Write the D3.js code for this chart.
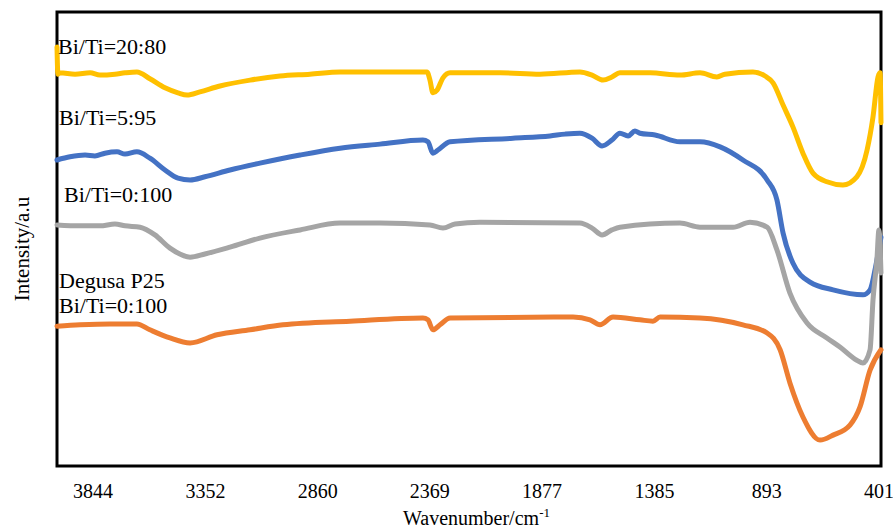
<!DOCTYPE html>
<html>
<head>
<meta charset="utf-8">
<script src="https://cdn.jsdelivr.net/npm/d3@7"></script>
<style>
  body { margin: 0; background: #fff; }
  text { font-family: "Liberation Serif", "Times New Roman", serif; fill: #000; }
</style>
</head>
<body>
<div id="chart"></div>
<script>
// wavenumber (cm-1) and intensity (a.u., 0-100)
const tickValues = [3844, 3352, 2860, 2369, 1877, 1385, 893, 401]

const wnBi20 = [4000, 3996, 3987, 3921, 3855, 3812, 3746, 3702, 3650, 3593, 3527, 3470, 3430, 3374, 3286, 3154, 3023, 2892, 2760, 2585, 2379, 2366, 2353, 2335, 2309, 2278, 2059, 1884, 1709, 1656, 1608, 1569, 1534, 1402, 1271, 1183, 1109, 1074, 951, 898, 863, 819, 776, 732, 688, 627, 557, 496, 451, 425, 403, 394, 390]
const intBi20 = [92.3, 86.3, 86.6, 86.3, 86.6, 86.1, 86.3, 86.6, 86.8, 85.3, 83.3, 82.2, 81.7, 82.4, 83.7, 85.0, 85.9, 86.3, 86.8, 86.8, 86.8, 85.0, 82.2, 82.8, 85.5, 86.6, 86.6, 86.3, 86.8, 86.1, 85.0, 85.7, 86.6, 86.6, 86.1, 86.6, 85.7, 86.3, 86.8, 85.9, 84.4, 79.5, 74.7, 68.9, 64.5, 62.6, 61.9, 63.7, 69.6, 76.9, 85.7, 86.6, 75.6]

const wnBi5 = [4000, 3943, 3877, 3834, 3790, 3737, 3702, 3650, 3593, 3527, 3470, 3417, 3352, 3242, 3111, 2935, 2760, 2585, 2397, 2375, 2353, 2331, 2278, 2002, 1840, 1774, 1709, 1656, 1612, 1569, 1534, 1498, 1468, 1446, 1380, 1271, 1183, 1095, 995, 889, 846, 819, 776, 701, 600, 469, 438, 412, 390]
const intBi5 = [67.4, 68.1, 68.5, 68.3, 68.9, 69.2, 68.7, 69.2, 67.8, 65.2, 63.4, 63.0, 63.7, 65.2, 66.7, 68.5, 70.0, 70.9, 71.8, 71.4, 68.9, 69.6, 71.4, 72.2, 72.7, 73.1, 73.3, 72.2, 70.5, 71.8, 73.3, 72.7, 73.8, 73.3, 72.9, 71.4, 71.4, 70.3, 67.4, 63.0, 58.6, 51.3, 44.7, 40.5, 38.8, 37.7, 38.8, 44.3, 50.4]

const wnBi0 = [4000, 3899, 3812, 3746, 3702, 3636, 3571, 3505, 3417, 3352, 3242, 3111, 2935, 2760, 2585, 2366, 2309, 2256, 2147, 1709, 1656, 1612, 1569, 1534, 1271, 1183, 1038, 964, 889, 846, 789, 714, 627, 570, 496, 469, 438, 425, 408, 399, 390]
const intBi0 = [53.1, 52.9, 52.9, 53.3, 52.9, 52.6, 50.9, 48.0, 46.0, 46.7, 48.2, 50.2, 52.0, 53.5, 53.5, 53.1, 52.4, 53.3, 53.7, 53.5, 52.4, 50.9, 52.0, 52.6, 53.5, 52.6, 52.6, 53.7, 52.6, 47.6, 38.1, 31.5, 28.2, 26.2, 23.3, 22.7, 25.6, 36.6, 45.4, 52.0, 42.5]

const wnP25 = [4000, 3899, 3768, 3650, 3593, 3505, 3417, 3299, 3154, 3010, 2716, 2397, 2375, 2353, 2322, 2278, 1739, 1665, 1621, 1564, 1446, 1389, 1358, 1183, 995, 889, 832, 789, 732, 657, 600, 526, 482, 438, 390]
const intP25 = [30.8, 31.1, 31.3, 31.3, 30.0, 28.2, 27.1, 28.9, 30.0, 31.1, 31.9, 32.6, 32.2, 30.0, 31.1, 32.6, 32.8, 32.2, 31.1, 32.8, 32.2, 31.9, 32.8, 32.6, 31.1, 29.3, 25.6, 18.3, 10.8, 5.7, 6.8, 9.0, 13.0, 21.1, 25.6]

const seriesNames = ["Bi/Ti=20:80", "Bi/Ti=5:95", "Bi/Ti=0:100", "Degusa P25 Bi/Ti=0:100"]
const seriesColors = ["#FFC000", "#4472C4", "#A5A5A5", "#ED7D31"]

const series = [
    {name: seriesNames[0], color: seriesColors[0], wn: wnBi20, val: intBi20},
    {name: seriesNames[1], color: seriesColors[1], wn: wnBi5, val: intBi5},
    {name: seriesNames[2], color: seriesColors[2], wn: wnBi0, val: intBi0},
    {name: seriesNames[3], color: seriesColors[3], wn: wnP25, val: intP25}
]

const width = 893
const height = 530
const plot = {left: 57, top: 12, right: 881, bottom: 466}

const x = d3.scaleLinear()
    .domain([4000, 390])
    .range([plot.left, plot.right])

const y = d3.scaleLinear()
    .domain([0, 100])
    .range([plot.bottom, plot.top])

const svg = d3.select("#chart").append("svg")
    .attr("width", width)
    .attr("height", height)

svg.append("rect")
    .attr("width", width)
    .attr("height", height)
    .attr("fill", "#fff")

// frame
svg.append("rect")
    .attr("x", plot.left)
    .attr("y", plot.top)
    .attr("width", plot.right - plot.left)
    .attr("height", plot.bottom - plot.top)
    .attr("fill", "none")
    .attr("stroke", "#000")
    .attr("stroke-width", 3)

// x axis labels (no tick marks in the original)
const xAxis = d3.axisBottom(x)
    .tickValues(tickValues)
    .tickSize(0)
    .tickPadding(0)
    .tickFormat(d3.format("d"))

const gx = svg.append("g")
    .attr("transform", `translate(0,${plot.bottom})`)
    .call(xAxis)
gx.select(".domain").remove()
gx.selectAll("text")
    .attr("dy", null)
    .attr("y", 32)
    .style("font-family", '"Liberation Serif", "Times New Roman", serif')
    .style("font-size", "20px")
    .attr("fill", "#000")

const line = d3.line()
    .x(d => x(d[0]))
    .y(d => y(d[1]))
    .curve(d3.curveMonotoneX)

svg.append("g")
    .selectAll("path")
    .data(series)
    .join("path")
    .attr("d", s => line(s.wn.map((w, i) => [w, s.val[i]])))
    .attr("fill", "none")
    .attr("stroke", s => s.color)
    .attr("stroke-width", 5)
    .attr("stroke-linejoin", "round")
    .attr("stroke-linecap", "round")

// series labels
const labels = [
    {lines: ["Bi/Ti=20:80"], x: 58, y: 54},
    {lines: ["Bi/Ti=5:95"], x: 59, y: 125},
    {lines: ["Bi/Ti=0:100"], x: 64, y: 202},
    {lines: ["Degusa P25", "Bi/Ti=0:100"], x: 59, y: 288}
]
labels.forEach(l => {
    const t = svg.append("text")
        .attr("x", l.x)
        .attr("y", l.y)
        .style("font-size", "22px")
    l.lines.forEach((s, i) => {
        t.append("tspan")
            .attr("x", l.x)
            .attr("dy", i === 0 ? 0 : 25)
            .text(s)
    })
})

// axis titles
const xt = svg.append("text")
    .attr("x", 403)
    .attr("y", 525)
    .style("font-size", "20px")
xt.append("tspan").text("Wavenumber/cm")
xt.append("tspan")
    .attr("dy", -8)
    .style("font-size", "13px")
    .text("-1")

svg.append("text")
    .attr("transform", `translate(29,${(plot.top + plot.bottom) / 2 + 10}) rotate(-90)`)
    .attr("text-anchor", "middle")
    .style("font-size", "21px")
    .text("Intensity/a.u")
</script>
</body>
</html>
